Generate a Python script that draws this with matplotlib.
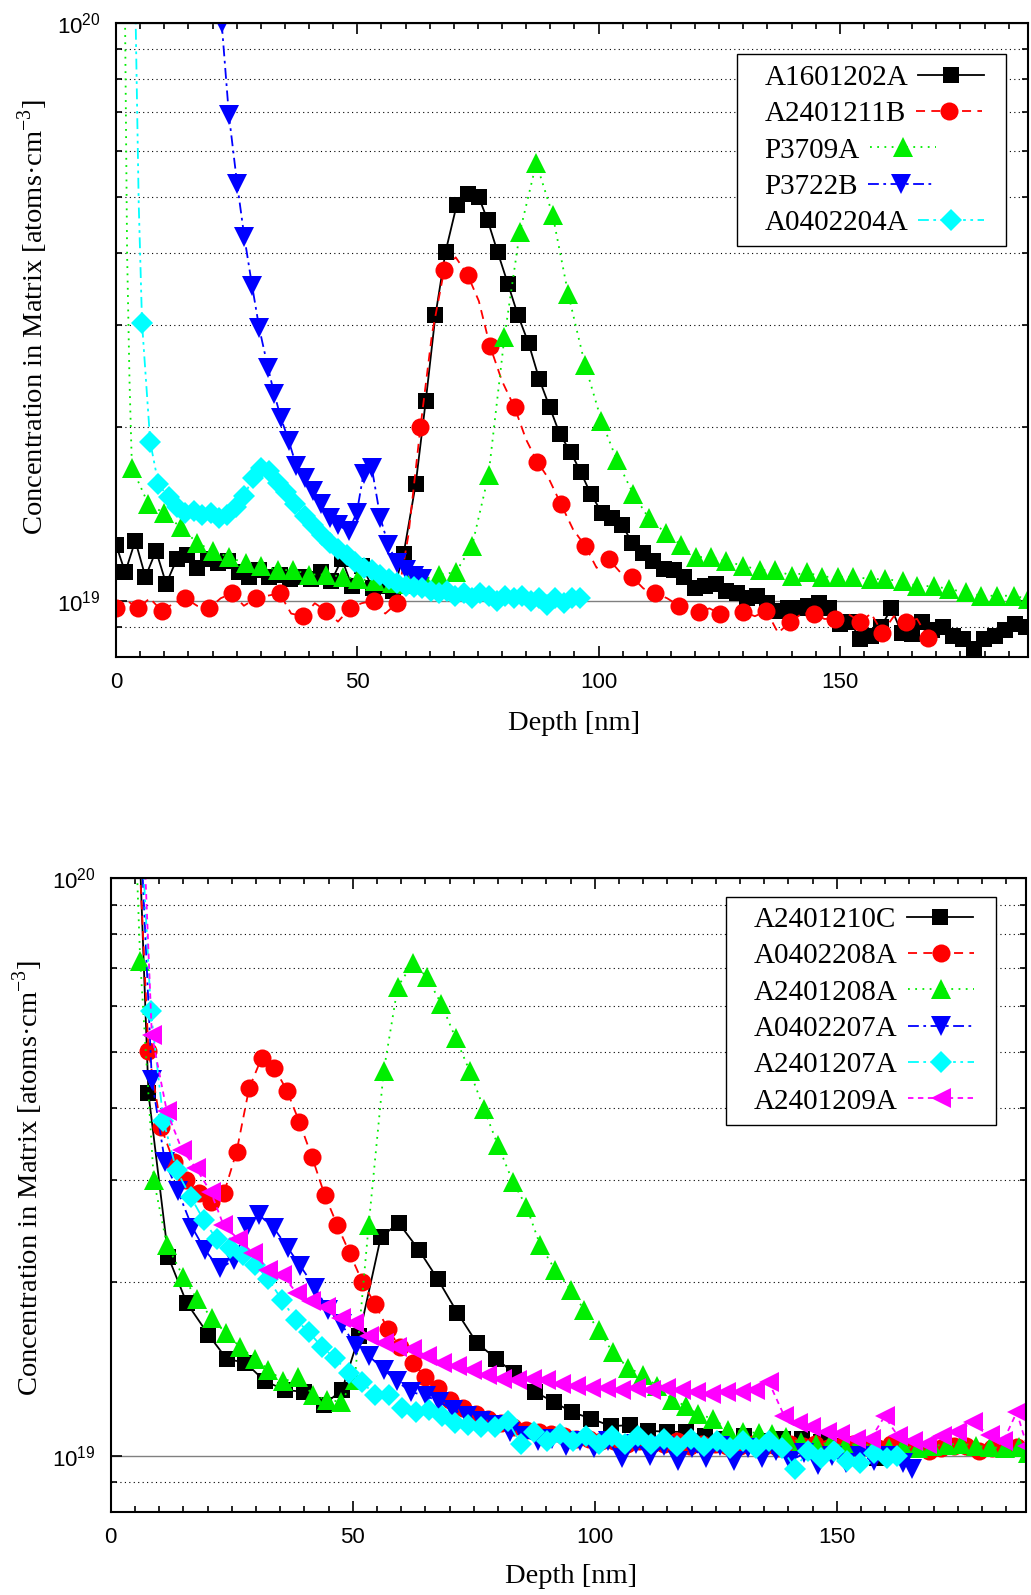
import matplotlib
matplotlib.use("Agg")
import matplotlib.pyplot as plt
from matplotlib.patches import Rectangle
from matplotlib.ticker import MultipleLocator, LogLocator, NullFormatter, LogFormatterSciNotation

plt.rcParams["font.family"] = "Liberation Sans"
plt.rcParams["mathtext.fontset"] = "custom"
plt.rcParams["mathtext.rm"] = "Liberation Serif"

E19 = 1e19  # concentrations below are given in units of 1e19 atoms/cm3

# ---------------------------------------------------------------
# upper panel
# ---------------------------------------------------------------
A1601202A_X = [0.0, 1.9, 4.0, 6.1, 8.3, 10.4, 12.6, 14.7, 16.8, 19.0, 21.1, 23.2, 25.4,
               27.5, 29.7, 31.8, 33.9, 36.1, 38.2, 40.4, 42.5, 44.6, 46.8, 48.9, 51.0,
               53.2, 55.3, 57.5, 59.6, 62.1, 64.2, 66.2, 68.3, 70.6, 72.9, 75.2, 77.0,
               79.1, 81.2, 83.3, 85.5, 87.7, 89.9, 92.0, 94.2, 96.3, 98.4, 100.7, 102.8,
               104.9, 107.0, 109.2, 111.3, 113.6, 115.7, 117.7, 120.0, 122.1, 124.3,
               126.4, 128.6, 130.7, 132.8, 135.0, 137.1, 139.3, 141.4, 143.5, 145.7,
               147.8, 150.0, 152.1, 154.2, 156.4, 158.5, 160.7, 162.8, 164.9, 167.1,
               169.2, 171.4, 173.5, 175.6, 177.8, 179.9, 182.1, 184.2, 186.3, 188.5]
A1601202A_Y = [1.25, 1.12, 1.27, 1.10, 1.22, 1.07, 1.18, 1.20, 1.14, 1.18, 1.16, 1.17, 1.12,
               1.10, 1.13, 1.10, 1.11, 1.09, 1.10, 1.09, 1.12, 1.08, 1.18, 1.06, 1.15,
               1.05, 1.06, 1.04, 1.205, 1.59, 2.22, 3.12, 4.02, 4.84, 5.05, 4.99, 4.56,
               4.01, 3.54, 3.12, 2.79, 2.42, 2.16, 1.94, 1.81, 1.67, 1.53, 1.42, 1.39,
               1.35, 1.26, 1.21, 1.17, 1.135, 1.13, 1.10, 1.05, 1.06, 1.07,
               1.04, 1.03, 1.01, 1.02, 0.99, 0.96, 0.97, 0.97, 0.98, 0.99,
               0.97, 0.91, 0.92, 0.86, 0.87, 0.90, 0.97, 0.88, 0.875, 0.92,
               0.89, 0.90, 0.87, 0.86, 0.825, 0.86, 0.87, 0.89, 0.91, 0.90]

A2401211B_X = [0.1, 2.3, 4.6, 7.0, 9.5, 12.0, 14.4, 16.8, 19.3, 21.7, 24.1, 26.5, 29.0,
               31.4, 33.9, 36.3, 38.8, 41.2, 43.6, 46.0, 48.5, 50.9, 53.4, 55.8, 58.2,
               60.6, 63.1, 65.5, 68.0, 70.4, 72.9, 75.2, 77.5, 80.0, 82.6, 85.0, 87.3,
               89.8, 92.2, 94.7, 97.2, 99.6, 102.1, 104.5, 106.9, 109.3, 111.8, 114.2,
               116.7, 118.8, 120.8, 123.0, 125.1, 127.5, 130.0, 132.4, 134.8, 137.2,
               139.7, 142.1, 144.6, 146.8, 149.1, 151.6, 154.2, 156.5, 158.8, 161.2,
               163.7, 166.0, 168.3]
A2401211B_Y = [0.97, 1.00, 0.97, 1.01, 0.96, 0.99, 1.01, 0.98, 0.97, 1.01, 1.03, 0.98, 1.01,
               1.02, 1.03, 0.95, 0.94, 0.99, 0.96, 0.92, 0.97, 0.99, 1.00, 0.95, 0.99,
               1.3, 2.00, 2.9, 3.73, 3.93, 3.66, 3.3, 2.76, 2.4, 2.16, 1.90, 1.74,
               1.62, 1.47, 1.33, 1.245, 1.14, 1.18, 1.12, 1.10, 1.05, 1.03, 1.01,
               0.98, 0.96, 0.955, 0.97, 0.95, 0.96, 0.957, 0.94, 0.96, 0.88,
               0.917, 0.95, 0.95, 0.93, 0.93, 0.95, 0.92, 0.95, 0.881, 0.94,
               0.917, 0.93, 0.862]

P3709A_X = [1.8, 2.3, 2.8, 3.3, 6.7, 9.9, 13.4, 16.8, 20.0, 23.4, 26.9, 30.1, 33.5, 36.7,
            40.1, 43.6, 47.1, 50.2, 53.7, 57.2, 60.5, 63.9, 66.9, 70.4, 73.8, 77.2, 80.5,
            83.7, 87.1, 90.5, 93.7, 97.2, 100.6, 103.8, 107.2, 110.4, 113.9, 117.0, 120.1,
            123.3, 126.4, 129.9, 133.4, 136.5, 140.0, 143.1, 146.3, 149.6, 152.8, 156.4,
            159.4, 163.0, 166.1, 169.5, 172.7, 176.2, 179.3, 182.6, 186.0, 189.1]
P3709A_Y = [12.0, 4.0, 2.4, 1.70, 1.47, 1.42, 1.34, 1.26, 1.22, 1.19, 1.16, 1.15, 1.13, 1.13,
            1.11, 1.11, 1.10, 1.09, 1.08, 1.075, 1.07, 1.09, 1.11, 1.12, 1.245, 1.65, 2.86,
            4.35, 5.72, 4.65, 3.40, 2.56, 2.05, 1.75, 1.53, 1.39, 1.31, 1.25, 1.19,
            1.19, 1.17, 1.15, 1.13, 1.13, 1.105, 1.12, 1.10, 1.10, 1.10, 1.09,
            1.09, 1.08, 1.06, 1.06, 1.047, 1.034, 1.02, 1.02, 1.02, 1.007]

P3722B_X = [21.9, 23.4, 25.1, 26.6, 28.2, 29.7, 31.5, 32.8, 34.2, 35.8, 37.4, 39.1, 40.9,
            42.4, 44.3, 46.1, 48.2, 49.9, 51.3, 53.0, 54.8, 56.4, 58.3, 60.0, 61.7, 63.5]
P3722B_Y = [10.0, 6.93, 5.27, 4.26, 3.51, 2.96, 2.53, 2.28, 2.07, 1.89, 1.71, 1.63, 1.55,
            1.47, 1.39, 1.35, 1.32, 1.42, 1.66, 1.70, 1.39, 1.25, 1.16, 1.13, 1.105, 1.09]

A0402204A_X = [4.0, 4.7, 5.4, 7.1, 8.8, 10.9, 12.7, 14.4, 16.1, 17.9, 19.6, 21.4, 23.1, 24.8,
               26.6, 28.3, 30.1, 31.8, 33.5, 35.3, 37.0, 39.1, 40.9, 42.6, 44.3, 46.1, 47.8,
               49.5, 51.3, 53.0, 54.8, 56.5, 58.2, 60.0, 61.7, 63.4, 65.2, 66.9, 68.6, 70.3,
               72.1, 73.8, 75.5, 77.2, 79.0, 80.7, 82.4, 84.1, 85.9, 87.6, 89.3, 91.0, 92.8,
               94.5, 96.2]
A0402204A_Y = [11.0, 4.9, 3.02, 1.88, 1.59, 1.51, 1.45, 1.42, 1.43, 1.41, 1.42, 1.39, 1.41,
               1.45, 1.52, 1.63, 1.70, 1.68, 1.60, 1.54, 1.47, 1.40, 1.35, 1.30, 1.26, 1.23,
               1.20, 1.165, 1.14, 1.13, 1.11, 1.09, 1.075, 1.06, 1.055, 1.05, 1.04, 1.03,
               1.04, 1.02, 1.03, 1.01, 1.03, 1.02, 1.00, 1.02, 1.01, 1.02, 1.00, 1.01,
               0.985, 1.01, 0.99, 1.01, 1.01]

# ---------------------------------------------------------------
# lower panel
# ---------------------------------------------------------------
A2401210C_X = [6.1, 7.8, 11.9, 15.7, 20.2, 24.0, 27.8, 31.9, 36.1, 39.9, 44.0, 47.8, 51.3,
               55.8, 59.5, 63.7, 67.6, 71.6, 75.6, 79.7, 83.4, 87.6, 91.5, 95.3, 99.2,
               103.4, 107.2, 111.1, 114.9, 118.8, 122.8, 126.8, 130.8, 134.8, 138.8, 142.8,
               146.8, 150.8, 154.8, 158.4]
A2401210C_Y = [10.5, 4.24, 2.21, 1.84, 1.62, 1.47, 1.45, 1.345, 1.30, 1.29, 1.225, 1.30, 1.61,
               2.39, 2.53, 2.27, 2.02, 1.77, 1.57, 1.47, 1.39, 1.29, 1.24, 1.19, 1.16,
               1.125, 1.13, 1.105, 1.10, 1.10, 1.08, 1.07, 1.08, 1.06, 1.07, 1.07,
               1.055, 1.04, 1.03, 0.99]

A0402208A_X = [5.9, 7.8, 10.4, 13.0, 15.6, 18.2, 20.8, 23.4, 26.0, 28.6, 31.2, 33.8, 36.4,
               39.0, 41.6, 44.2, 46.8, 49.4, 52.0, 54.6, 57.2, 59.8, 62.4, 65.0, 67.6, 70.2,
               72.8, 75.4, 78.0, 80.6, 83.2, 85.8, 88.4, 91.0, 93.6, 96.2, 98.8, 101.4,
               104.0, 106.6, 109.2, 111.8, 114.4, 117.0, 119.6, 122.2, 124.8, 127.4, 130.0,
               132.6, 135.2, 137.8, 140.4, 143.0, 145.6, 148.2, 150.8, 153.4, 156.0, 158.6,
               161.2, 163.8, 166.4, 169.0, 171.6, 174.2, 176.8, 179.4, 182.0, 184.6, 187.2]
A0402208A_Y = [11.0, 5.03, 3.71, 3.23, 3.00, 2.85, 2.75, 2.85, 3.36, 4.33, 4.89, 4.70, 4.29,
               3.78, 3.29, 2.83, 2.51, 2.24, 2.00, 1.83, 1.66, 1.54, 1.45, 1.37, 1.31, 1.25,
               1.21, 1.18, 1.16, 1.14, 1.12, 1.11, 1.10, 1.09, 1.08, 1.07, 1.07, 1.06,
               1.06, 1.05, 1.06, 1.05, 1.05, 1.06, 1.04, 1.05, 1.05, 1.04, 1.04,
               1.05, 1.04, 1.03, 1.05, 1.04, 1.05, 1.03, 1.04, 1.05, 1.04, 1.03,
               1.05, 1.04, 1.03, 1.02, 1.03, 1.04, 1.04, 1.02, 1.03, 1.04, 1.035]

A2401208A_X = [5.3, 6.1, 8.9, 11.6, 15.0, 17.8, 20.9, 23.8, 26.8, 29.9, 32.6, 35.7, 38.7,
               41.7, 44.7, 47.5, 50.4, 53.3, 56.4, 59.3, 62.4, 65.3, 68.3, 71.3, 74.2, 77.1,
               80.0, 83.1, 85.9, 88.7, 91.8, 95.0, 97.8, 100.9, 103.7, 106.9, 110.0, 112.9,
               116.0, 118.8, 121.3, 124.4, 127.6, 130.7, 133.9, 136.6, 139.5, 142.6, 145.7,
               148.7, 151.7, 154.7, 157.7, 160.7, 163.7, 166.7, 169.7, 172.7, 175.7, 178.7,
               181.7, 184.7, 187.7, 189.5]
A2401208A_Y = [11.0, 7.18, 3.00, 2.32, 2.04, 1.87, 1.73, 1.63, 1.54, 1.47, 1.41, 1.345, 1.37,
               1.275, 1.25, 1.24, 1.35, 2.51, 4.63, 6.49, 7.12, 6.75, 6.06, 5.28, 4.63, 3.99,
               3.45, 2.98, 2.70, 2.32, 2.10, 1.94, 1.79, 1.65, 1.51, 1.42, 1.38, 1.32,
               1.25, 1.22, 1.18, 1.16, 1.11, 1.10, 1.095, 1.09, 1.077, 1.055, 1.05,
               1.05, 1.04, 1.05, 1.04, 1.03, 1.04, 1.03, 1.04, 1.045, 1.05, 1.04,
               1.035, 1.03, 1.035, 1.01]

A0402207A_X = [6.4, 8.5, 11.2, 13.9, 16.9, 19.5, 22.5, 25.4, 28.2, 30.7, 33.7, 36.6, 39.2,
               42.3, 44.9, 47.7, 50.6, 53.3, 56.4, 59.2, 62.0, 65.1, 67.9, 70.8, 73.7, 76.6,
               79.5, 82.4, 85.3, 88.2, 91.1, 94.0, 96.9, 99.8, 102.7, 105.6, 108.5, 111.4,
               114.3, 117.2, 120.1, 123.0, 125.9, 128.8, 131.7, 134.6, 137.5, 140.4, 143.3,
               146.2, 149.1, 152.0, 154.9, 157.8, 160.7, 163.6, 165.5]
A0402207A_Y = [11.0, 4.48, 3.23, 2.87, 2.48, 2.27, 2.11, 2.18, 2.49, 2.61, 2.48, 2.29, 2.13,
               1.95, 1.79, 1.69, 1.55, 1.49, 1.41, 1.345, 1.29, 1.27, 1.24, 1.20, 1.17, 1.15,
               1.13, 1.10, 1.08, 1.06, 1.07, 1.04, 1.06, 1.03, 1.06, 0.99, 1.05, 1.00,
               1.04, 0.98, 1.03, 0.99, 1.04, 0.98, 1.03, 0.99, 1.02, 0.98, 1.01,
               0.965, 1.00, 0.97, 1.00, 0.98, 1.00, 0.97, 0.95]

A2401207A_X = [6.6, 8.3, 10.9, 13.6, 16.5, 19.2, 21.9, 24.7, 27.3, 29.9, 32.6, 35.4, 38.2,
               40.9, 43.7, 46.4, 49.2, 52.0, 54.6, 57.5, 60.2, 63.0, 65.8, 68.5, 71.2, 73.9,
               76.6, 79.3, 82.0, 84.7, 87.4, 90.1, 92.8, 95.5, 98.2, 100.9, 103.6, 106.3,
               109.0, 111.7, 114.4, 117.1, 119.8, 122.5, 125.2, 127.9, 130.6, 133.3, 136.0,
               138.7, 141.4, 144.1, 146.8, 149.5, 152.2, 154.9, 157.6, 160.3, 162.5]
A2401207A_Y = [11.0, 5.88, 3.80, 3.12, 2.81, 2.56, 2.37, 2.29, 2.23, 2.14, 2.02, 1.86, 1.72,
               1.64, 1.54, 1.475, 1.39, 1.34, 1.275, 1.275, 1.21, 1.19, 1.20, 1.17, 1.14, 1.13,
               1.12, 1.12, 1.15, 1.05, 1.10, 1.06, 1.09, 1.06, 1.08, 1.05, 1.08, 1.05,
               1.08, 1.05, 1.07, 1.04, 1.07, 1.04, 1.06, 1.03, 1.06, 1.03, 1.06,
               1.03, 0.95, 1.02, 0.99, 1.02, 0.98, 0.97, 1.01, 0.99, 1.00]

A2401209A_X = [7.0, 8.5, 11.6, 14.7, 17.6, 20.7, 23.3, 26.4, 29.5, 32.6, 35.4, 38.5, 41.3,
               44.4, 47.5, 50.2, 53.3, 56.4, 59.2, 62.3, 65.4, 68.5, 71.6, 74.7, 77.7, 80.8,
               83.9, 87.0, 90.0, 93.1, 96.2, 99.3, 102.4, 105.5, 108.6, 111.6, 114.7, 117.8,
               120.9, 124.0, 127.1, 130.2, 133.2, 136.0, 139.2, 142.0, 144.7, 147.9, 150.7,
               153.9, 157.0, 159.9, 162.7, 165.8, 168.6, 171.8, 174.9, 178.1, 181.6, 184.4,
               187.2, 189.3]
A2401209A_Y = [11.0, 5.35, 3.95, 3.39, 3.15, 2.86, 2.51, 2.37, 2.24, 2.10, 2.06, 1.91, 1.85,
               1.81, 1.73, 1.70, 1.61, 1.57, 1.54, 1.53, 1.49, 1.45, 1.43, 1.41, 1.38, 1.36,
               1.35, 1.36, 1.35, 1.33, 1.32, 1.31, 1.31, 1.30, 1.31, 1.30, 1.31, 1.30,
               1.29, 1.28, 1.29, 1.29, 1.30, 1.34, 1.17, 1.14, 1.12, 1.10, 1.09,
               1.07, 1.07, 1.17, 1.08, 1.06, 1.05, 1.08, 1.10, 1.145, 1.085, 1.06,
               1.19, 1.04]

# line / marker style per colour slot (gnuplot-like)
STYLES = [
    dict(color="black",   ls="-",                               marker="s", ms=11.5),
    dict(color="#ff0000", ls=(0, (5, 3.5)),                     marker="o", ms=13),
    dict(color="#00ee00", ls=(0, (1, 3)),                       marker="^", ms=14),
    dict(color="#0000ff", ls=(0, (6, 2.5, 1.5, 2.5)),           marker="v", ms=14),
    dict(color="#00ffff", ls=(0, (6, 2.5, 1.5, 2.5, 1.5, 2.5)), marker="D", ms=11),
    dict(color="#ff00ff", ls=(0, (3, 2.5)),                     marker="<", ms=14),
]

# (label, x, y, markevery)
TOP = [
    ("A1601202A", A1601202A_X, A1601202A_Y, 1),
    ("A2401211B", A2401211B_X, A2401211B_Y, 2),
    ("P3709A",    P3709A_X,    P3709A_Y,    (3, 1)),
    ("P3722B",    P3722B_X,    P3722B_Y,    1),
    ("A0402204A", A0402204A_X, A0402204A_Y, (2, 1)),
]
BOTTOM = [
    ("A2401210C", A2401210C_X, A2401210C_Y, (1, 1)),
    ("A0402208A", A0402208A_X, A0402208A_Y, (1, 1)),
    ("A2401208A", A2401208A_X, A2401208A_Y, (1, 1)),
    ("A0402207A", A0402207A_X, A0402207A_Y, (1, 1)),
    ("A2401207A", A2401207A_X, A2401207A_Y, (1, 1)),
    ("A2401209A", A2401209A_X, A2401209A_Y, (1, 1)),
]

W, H = 1031, 1595
fig = plt.figure(figsize=(W / 100, H / 100), dpi=100)


def px_rect(left, top, right, bottom):
    return [left / W, 1 - bottom / H, (right - left) / W, (bottom - top) / H]


def draw_panel(ax, series, box, text_anchor, ylab_xy, xlab_xy):
    for (label, xs, ys, every), st in zip(series, STYLES):
        ax.plot(xs, [v * E19 for v in ys], label=label, color=st["color"],
                linestyle=st["ls"], linewidth=1.3, marker=st["marker"],
                markersize=st["ms"], markeredgewidth=0, markevery=every)

    ax.set_yscale("log")
    ax.set_xlim(0, 189)
    ax.set_ylim(8e18, 1e20)

    ax.xaxis.set_major_locator(MultipleLocator(50))
    ax.xaxis.set_minor_locator(MultipleLocator(5))
    ax.yaxis.set_major_locator(LogLocator(base=10))
    ax.yaxis.set_minor_locator(LogLocator(base=10, subs=range(2, 10)))
    ax.yaxis.set_minor_formatter(NullFormatter())
    ax.yaxis.set_major_formatter(LogFormatterSciNotation())

    ax.tick_params(which="both", direction="in", top=True, right=True,
                   labelsize=16, width=1.2)
    ax.tick_params(which="major", length=8, pad=11)
    ax.tick_params(which="minor", length=4.5)
    for sp in ax.spines.values():
        sp.set_linewidth(1.5)

    ax.yaxis.grid(True, which="minor", color="black", linestyle=(0, (1, 3)), linewidth=0.8)
    ax.yaxis.grid(True, which="major", color="#808080", linestyle="-", linewidth=1.0)

    ax.set_xlabel("Depth [nm]", fontsize=20.5, family="Liberation Serif", va="center")
    ax.set_ylabel("Concentration in Matrix [atoms\u00b7cm$^{\\mathdefault{-3}}$]",
                  fontsize=20.5, family="Liberation Serif", va="center")
    ax.xaxis.set_label_coords(*xlab_xy)
    ax.yaxis.set_label_coords(*ylab_xy)

    # legend: text left-aligned, sample drawn right after the text
    leg = ax.legend(loc="upper left", bbox_to_anchor=(text_anchor[0] / W, 1 - text_anchor[1] / H),
                    bbox_transform=fig.transFigure, borderaxespad=0, borderpad=0,
                    frameon=False, markerfirst=False, numpoints=1, handlelength=2.26,
                    handletextpad=0.35, labelspacing=0.34,
                    prop={"family": "Liberation Serif", "size": 21})
    for col in leg._legend_handle_box.get_children():
        col.align = "left"
    x0, y0, x1, y1 = box
    frame = Rectangle((x0 / W, 1 - y1 / H), (x1 - x0) / W, (y1 - y0) / H,
                      transform=fig.transFigure, facecolor="white", edgecolor="black",
                      linewidth=1.0, zorder=4.5, clip_on=False)
    ax.add_artist(frame)


ax1 = fig.add_axes(px_rect(116, 23, 1028, 656.7))
draw_panel(ax1, TOP, (737, 54, 1006, 246), (764.5, 64.5), (-0.0916, 0.5354), (0.5026, -0.1049))

ax2 = fig.add_axes(px_rect(110.7, 878.3, 1025.5, 1511.7))
draw_panel(ax2, BOTTOM, (726, 897, 996, 1125), (754, 906.5), (-0.0909, 0.527), (0.5036, -0.1026))

fig.savefig("out.png", dpi=100)
